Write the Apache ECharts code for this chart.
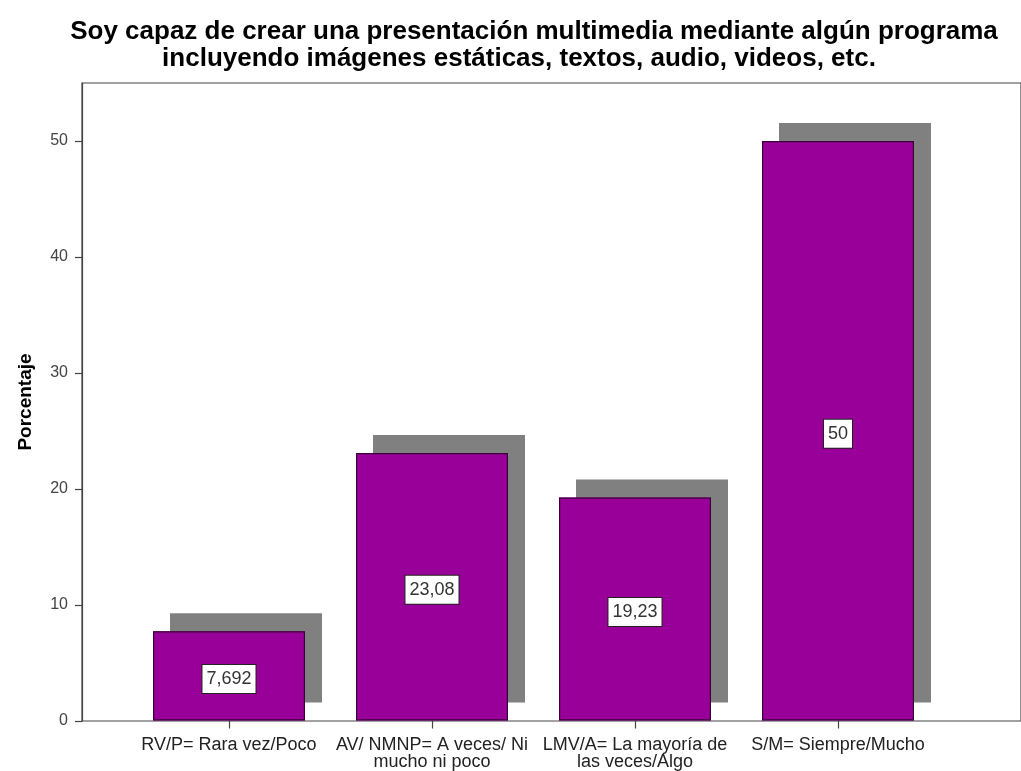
<!DOCTYPE html>
<html>
<head>
<meta charset="utf-8">
<script src="https://cdn.jsdelivr.net/npm/echarts@6/dist/echarts.min.js"></script>
<style>html,body{margin:0;padding:0;background:#fff}#c{width:1021px;height:771px}</style>
</head>
<body>
<div id="c"></div>
<script>
const titleLines = [
  'Soy capaz de crear una presentación multimedia mediante algún programa',
  'incluyendo imágenes estáticas, textos, audio, videos, etc.'
];
const categories = [
  'RV/P= Rara vez/Poco',
  'AV/ NMNP= A veces/ Ni\nmucho ni poco',
  'LMV/A= La mayoría de\nlas veces/Algo',
  'S/M= Siempre/Mucho'
];
const percentages = [7.692, 23.08, 19.23, 50];
const valueLabels = ['7,692', '23,08', '19,23', '50'];
const yTicks = [0, 10, 20, 30, 40, 50];
const yMax = 55;

const chart = echarts.init(document.getElementById('c'), null, {renderer: 'canvas'});
const font = 'Liberation Sans, Arial, sans-serif';
chart.setOption({
  animation: false,
  backgroundColor: '#fff',
  title: [
    {text: titleLines[0], left: 529, top: 14, textAlign: 'center',
     textStyle: {fontFamily: font, fontWeight: 'bold', fontSize: 26, color: '#000'}},
    {text: titleLines[1], left: 514, top: 41, textAlign: 'center',
     textStyle: {fontFamily: font, fontWeight: 'bold', fontSize: 26, color: '#000'}}
  ],
  grid: [
    {left: 82, top: 83, right: -5, bottom: 50, show: true, borderColor: '#444', borderWidth: 1.2, backgroundColor: 'transparent'},
    {left: 127.5, width: 812, top: 83, bottom: 50}
  ],
  xAxis: [
    {gridIndex: 0, type: 'value', show: false, min: 0, max: 1},
    {gridIndex: 1, type: 'category', data: categories,
     axisLine: {show: false},
     axisTick: {show: true, alignWithLabel: true, length: 8, lineStyle: {color: '#444', width: 1.2}},
     axisLabel: {interval: 0, fontFamily: font, fontSize: 18, color: '#222', lineHeight: 17, margin: 16}}
  ],
  yAxis: [
    {gridIndex: 0, type: 'value', min: 0, max: yMax,
     name: 'Porcentaje', nameLocation: 'middle', nameGap: 47,
     nameTextStyle: {fontFamily: font, fontWeight: 'bold', fontSize: 19, color: '#000'},
     axisLine: {show: true, lineStyle: {color: '#444', width: 1.2}},
     axisTick: {show: true, length: 7, customValues: yTicks, lineStyle: {color: '#444', width: 1.2}},
     axisLabel: {customValues: yTicks, fontFamily: font, fontSize: 16, color: '#444', margin: 14},
     splitLine: {show: false}},
    {gridIndex: 1, type: 'value', min: 0, max: yMax, show: false}
  ],
  series: [
    {
      name: 'sombra', type: 'bar', xAxisIndex: 1, yAxisIndex: 1,
      data: percentages, barWidth: 152, barGap: '-100%', silent: true,
      itemStyle: {color: '#990099', borderWidth: 0,
        shadowColor: '#808080', shadowBlur: 0, shadowOffsetX: 17, shadowOffsetY: -18}
    },
    {
      name: 'Porcentaje', type: 'bar', xAxisIndex: 1, yAxisIndex: 1,
      data: percentages, barWidth: 152, barGap: '-100%',
      itemStyle: {color: '#990099', borderColor: '#3a003a', borderWidth: 1.2},
      label: {show: true, position: 'inside', offset: [0, 3],
        formatter: p => valueLabels[p.dataIndex],
        fontFamily: font, fontSize: 18, color: '#333', lineHeight: 18,
        backgroundColor: '#fff', borderColor: '#222', borderWidth: 1, padding: [5, 4, 5, 4]}
    }
  ]
});
</script>
</body>
</html>
